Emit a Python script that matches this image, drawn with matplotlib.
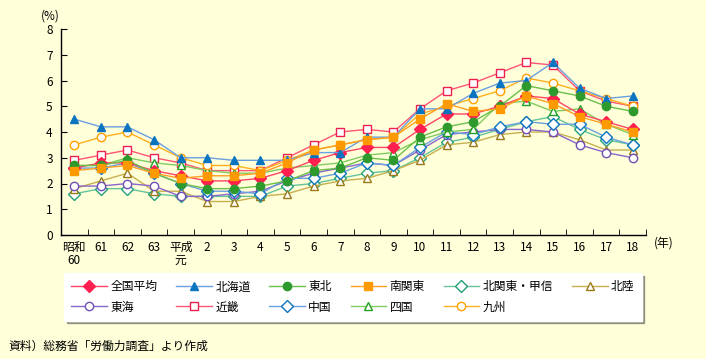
# 地域別完全失業率の推移
import matplotlib
matplotlib.use("Agg")
import matplotlib.pyplot as plt
from matplotlib.lines import Line2D

plt.rcParams["font.family"] = ["Noto Sans CJK JP", "DejaVu Sans"]

# ==========================================
# Data
# ==========================================

years = ["昭和\n60", "61", "62", "63", "平成\n元", "2", "3", "4", "5", "6", "7",
         "8", "9", "10", "11", "12", "13", "14", "15", "16", "17", "18"]

zenkoku = [2.6, 2.8, 2.8, 2.5, 2.3, 2.1, 2.1, 2.2, 2.5, 2.9, 3.2,
           3.4, 3.4, 4.1, 4.7, 4.7, 5.0, 5.4, 5.3, 4.7, 4.4, 4.1]
hokkaido = [4.5, 4.2, 4.2, 3.7, 3.0, 3.0, 2.9, 2.9, 2.9, 3.2, 3.2,
            3.8, 3.8, 4.9, 4.9, 5.5, 5.9, 6.0, 6.7, 5.7, 5.3, 5.4]
tohoku = [2.7, 2.7, 2.9, 2.4, 2.0, 1.8, 1.8, 1.9, 2.1, 2.5, 2.6,
          3.0, 2.9, 3.8, 4.2, 4.4, 5.0, 5.8, 5.6, 5.4, 5.0, 4.8]
minami_kanto = [2.5, 2.6, 2.7, 2.4, 2.2, 2.3, 2.3, 2.4, 2.8, 3.3, 3.5,
                3.7, 3.8, 4.5, 5.1, 4.8, 4.9, 5.4, 5.1, 4.6, 4.3, 4.0]
kita_kanto = [1.6, 1.8, 1.8, 1.6, 1.5, 1.5, 1.5, 1.5, 1.9, 2.0, 2.2,
              2.4, 2.5, 3.0, 3.6, 3.8, 4.1, 4.4, 4.6, 4.1, 3.7, 3.5]
hokuriku = [1.8, 2.1, 2.4, 1.7, 1.7, 1.3, 1.3, 1.5, 1.6, 1.9, 2.1,
            2.2, 2.5, 2.9, 3.5, 3.6, 3.9, 4.0, 4.0, 3.7, 3.3, 3.3]
tokai = [1.9, 1.9, 2.0, 1.9, 1.5, 1.5, 1.6, 1.7, 2.1, 2.4, 2.6,
         2.8, 2.7, 3.3, 3.9, 4.0, 4.1, 4.1, 4.0, 3.5, 3.2, 3.0]
kinki = [2.9, 3.1, 3.3, 3.0, 2.8, 2.5, 2.5, 2.5, 3.0, 3.5, 4.0,
         4.1, 4.0, 4.9, 5.6, 5.9, 6.3, 6.7, 6.6, 5.6, 5.2, 5.0]
chugoku = [2.6, 2.6, 2.8, 2.4, 2.0, 1.7, 1.7, 1.6, 2.2, 2.2, 2.4,
           2.8, 2.7, 3.4, 4.0, 3.9, 4.2, 4.4, 4.3, 4.3, 3.8, 3.5]
shikoku = [2.7, 2.7, 3.0, 2.8, 2.7, 2.5, 2.4, 2.4, 2.6, 2.7, 2.8,
           3.1, 3.2, 3.7, 4.0, 4.1, 5.1, 5.2, 4.8, 4.9, 4.3, 3.9]
kyushu = [3.5, 3.8, 4.0, 3.5, 3.0, 2.7, 2.7, 2.5, 2.9, 3.3, 3.5,
          3.7, 3.8, 4.7, 5.0, 5.3, 5.6, 6.1, 5.9, 5.6, 5.3, 5.0]

# name, values, line colour, marker, marker colour, filled
series = [
    ("全国平均", zenkoku, "#FF4466", "D", "#FF2050", True),
    ("北海道", hokkaido, "#6A9FE0", "^", "#0A74C0", True),
    ("東北", tohoku, "#6CC04A", "o", "#2E9A2E", True),
    ("南関東", minami_kanto, "#FFA020", "s", "#FF9900", True),
    ("北関東・甲信", kita_kanto, "#66C49A", "D", "#22A07A", False),
    ("北陸", hokuriku, "#C8B050", "^", "#9A7A1A", False),
    ("東海", tokai, "#8866CC", "o", "#7050B8", False),
    ("近畿", kinki, "#FF5577", "s", "#EE2050", False),
    ("中国", chugoku, "#6A9FE0", "D", "#0A74C0", False),
    ("四国", shikoku, "#80CC60", "^", "#20A020", False),
    ("九州", kyushu, "#FFB020", "o", "#FFA000", False),
]

bg = "#FFFFD9"

# ==========================================
# Plot
# ==========================================

fig = plt.figure(figsize=(7.06, 3.59), dpi=100, facecolor=bg)
ax = fig.add_axes([61 / 706, 1 - 235 / 359, 585 / 706, 206 / 359])
ax.set_facecolor(bg)

x = list(range(len(years)))
handles = []
for name, vals, lc, mk, mc, filled in series:
    ms = 6.5 if mk == "D" else 6
    line, = ax.plot(
        x, vals,
        color=lc, lw=1.0,
        marker=mk, markersize=ms,
        markerfacecolor=mc if filled else "white",
        markeredgecolor=mc, markeredgewidth=1.0,
        label=name, zorder=3 if filled else 2,
    )
    handles.append(line)

ax.set_xlim(-0.5, len(years) - 0.5)
ax.set_ylim(0, 8)

ax.spines["top"].set_visible(False)
ax.spines["right"].set_visible(False)
ax.spines["left"].set_linewidth(1.0)
ax.spines["bottom"].set_linewidth(1.0)

ax.set_yticks(range(0, 9))
ax.tick_params(axis="y", direction="in", length=4, labelsize=8.5, pad=6)
ax.set_xticks(x)
ax.set_xticklabels(years, fontsize=8.5, linespacing=1.0, va="top")
ax.set_xticks([i + 0.5 for i in range(-1, len(years))], minor=True)
ax.tick_params(axis="x", which="major", length=0, pad=4)
ax.tick_params(axis="x", which="minor", direction="in", length=4)

fig.text(50 / 706, 1 - 16 / 359, "(%)", fontsize=8.5, ha="center", va="center")
fig.text(664 / 706, 1 - 243 / 359, "(年)", fontsize=8.5, ha="center", va="center")

# legend, row by row
order = [0, 6, 1, 7, 2, 8, 3, 9, 4, 10, 5]
leg = fig.legend(
    [handles[i] for i in order],
    [series[i][0] for i in order],
    ncol=6, loc="center",
    bbox_to_anchor=(353 / 706, 1 - 297 / 359),
    fontsize=8.5, frameon=True, fancybox=False, shadow=True,
    handlelength=3.0, handletextpad=0.3, columnspacing=1.6,
    borderpad=0.6, labelspacing=0.6,
)
leg.get_frame().set_facecolor("white")
leg.get_frame().set_edgecolor("white")

fig.text(8 / 706, 1 - 346 / 359, "資料）総務省「労働力調査」より作成",
         fontsize=8.5, ha="left", va="center")

fig.savefig("out.png", dpi=100, facecolor=bg)
